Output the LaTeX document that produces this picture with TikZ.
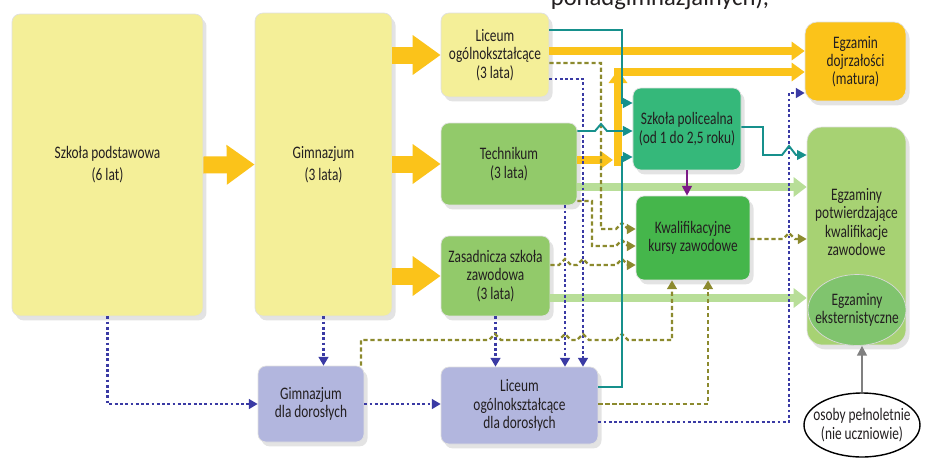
\documentclass[tikz,border=0pt]{standalone}
\usepackage{fontspec}
\setmainfont{Carlito}[FakeStretch=0.76]
\newfontfamily\headfont{Carlito}
\usetikzlibrary{arrows.meta,shadows,shapes.geometric}
\definecolor{pyellow}{HTML}{F4EF98}
\definecolor{ayellow}{HTML}{FBC31A}
\definecolor{lgreen}{HTML}{92CA6A}
\definecolor{tgreen}{HTML}{35B87A}
\definecolor{kgreen}{HTML}{45B64B}
\definecolor{egreen}{HTML}{A7D273}
\definecolor{xgreen}{HTML}{80C46E}
\definecolor{lavend}{HTML}{B2B6DE}
\definecolor{pgreen}{HTML}{B8DE98}
\definecolor{tealc}{HTML}{16908C}
\definecolor{olivec}{HTML}{8C8A2E}
\definecolor{bluec}{HTML}{3A3AA4}
\definecolor{purplec}{HTML}{7B1A86}
\definecolor{textc}{HTML}{231F20}

\begin{document}
\begin{tikzpicture}[x=0.02cm,y=-0.02cm,
    box/.style={rounded corners=0.16cm, draw=black!12, text=textc, align=center,
      font=\fontsize{10}{10.4}\selectfont,
      drop shadow={opacity=0.22,shadow xshift=2pt,shadow yshift=-2.5pt}},
    boxtext/.style={text=textc, align=center, font=\fontsize{10}{10.4}\selectfont},
    bigarrow/.style={ayellow, line width=0.34cm, -{Triangle[width=0.76cm,length=0.56cm]}},
    thinyel/.style={ayellow, line width=0.16cm, -{Triangle[width=0.36cm,length=0.26cm]}},
    lgarrow/.style={pgreen, line width=0.16cm, -{Triangle[width=0.38cm,length=0.26cm]}},
    tealline/.style={tealc, line width=1.1pt, -{Triangle[width=5.5pt,length=5.5pt]}},
    purpline/.style={purplec, line width=1.1pt, -{Triangle[width=5.5pt,length=5.5pt]}},
    blueline/.style={bluec, line width=1.3pt, dash pattern=on 1.6pt off 1.4pt, -{Triangle[width=5.5pt,length=5pt]}},
    oliveline/.style={olivec, line width=1.3pt, dash pattern=on 2.4pt off 1.6pt, -{Triangle[width=5.5pt,length=5pt]}},
    grayarr/.style={black!50, line width=1.1pt, -{Triangle[width=5.5pt,length=5.5pt]}}]
\useasboundingbox (0,0) rectangle (930,457);
\clip (0,0) rectangle (930,457);
\fill[white] (0,0) rectangle (930,457);
\node[font=\headfont\fontsize{14}{14}\selectfont, text=textc, anchor=base] (head) at (660,5) {ponadgimnazjalnych),};
\node[box, fill=pyellow, minimum width=3.82cm, minimum height=6.04cm] (sp) at (107.5,165) {Szkoła podstawowa\\[2pt](6 lat)};
\node[box, fill=pyellow, minimum width=2.74cm, minimum height=6.06cm] (gim) at (323.5,164.5) {Gimnazjum\\[2pt](3 lata)};
\node[box, fill=pyellow, minimum width=2.16cm, minimum height=1.68cm] (lo) at (495,55) {Liceum\\ogólnokształcące\\(3 lata)};
\node[box, fill=lgreen, minimum width=2.72cm, minimum height=1.64cm] (tech) at (509,164) {Technikum\\(3 lata)};
\node[box, fill=lgreen, minimum width=2.18cm, minimum height=1.6cm] (zsz) at (495.5,276) {Zasadnicza szkoła\\zawodowa\\(3 lata)};
\node[box, fill=tgreen, minimum width=2.16cm, minimum height=1.64cm] (poli) at (687,129) {Szkoła policealna\\(od 1 do 2,5 roku)};
\node[box, fill=kgreen, minimum width=2.28cm, minimum height=1.68cm] (kur) at (693,238) {Kwalifikacyjne\\kursy zawodowe};
\node[box, fill=ayellow, rounded corners=0.24cm, minimum width=2.02cm, minimum height=1.58cm] (mat) at (855.5,61.5) {Egzamin\\dojrzałości\\(matura)};
\node[box, fill=egreen, rounded corners=0.3cm, minimum width=1.98cm, minimum height=4.36cm,
  label={[boxtext, yshift=0.28cm]center:Egzaminy\\potwierdzające\\kwalifikacje\\zawodowe}] (egz) at (856.5,236) {};
\node[ellipse, fill=xgreen, draw=black!15, minimum width=1.96cm, minimum height=1.42cm,
  label={[boxtext]center:Egzaminy\\eksternistyczne}] (eks) at (857,310) {};
\node[box, fill=lavend, minimum width=2.12cm, minimum height=1.52cm] (gimdor) at (311,404) {Gimnazjum\\dla dorosłych};
\node[box, fill=lavend, minimum width=3.14cm, minimum height=1.54cm] (ldor) at (519.5,405.5) {Liceum\\ogólnokształcące\\dla dorosłych};
\node[ellipse, draw=black, line width=0.8pt, fill=white, minimum width=2.32cm, minimum height=1.28cm,
  label={[boxtext]center:osoby pełnoletnie\\(nie uczniowie)}] (os) at (862,425) {};
\draw[bigarrow] (sp.east) -- (gim.west);
\draw[bigarrow] (gim.east |- 0,55) -- (lo.west);
\draw[bigarrow] (gim.east |- 0,164) -- (tech.west);
\draw[bigarrow] (gim.east |- 0,276) -- (zsz.west);
\draw[lgarrow] (tech.east |- 0,187) -- (egz.west |- 0,187);
\draw[lgarrow] (zsz.east |- 0,298) -- (egz.west |- 0,298);
\draw[thinyel] (lo.east |- 0,51) -- (mat.west |- 0,51);
\draw[thinyel] (tech.east |- 0,160) -- (613,160);
\draw[thinyel] (618,166) -- (618,70);
\draw[thinyel] (614,72) -- (mat.west |- 0,72);
\draw[blueline] (sp.south) |- (gimdor.west);
\draw[blueline] (gim.south) -- (gim.south |- gimdor.north);
\draw[blueline] (gimdor.east) -- (gimdor.east -| ldor.west);
\draw[blueline] (zsz.south) -- (zsz.south |- ldor.north);
\draw[blueline] (tech.south -| 565,0) -- (ldor.north -| 565,0);
\draw[blueline] (lo.east |- 0,79) -- (583,79) -- (ldor.north -| 583,0);
\draw[blueline] (ldor.east |- 0,422) -- (789,422) -- (789,93) -- (mat.west |- 0,93);
\draw[oliveline] (lo.east |- 0,63) -- (601,63) -- (601,229) -- (616,229) -- (622,223) -- (628,229) -- (kur.west |- 0,229);
\draw[oliveline] (tech.east |- 0,201) -- (592,201) -- (592,246) -- (616,246) -- (622,240) -- (628,246) -- (kur.west |- 0,246);
\draw[oliveline] (zsz.east |- 0,265) -- (559,265) -- (565,259) -- (571,265) -- (577,265) -- (583,259) -- (589,265)
  -- (616,265) -- (622,259) -- (628,265) -- (kur.west |- 0,265);
\draw[oliveline] (gimdor.north -| 361,0) -- (361,340) -- (489,340) -- (495,334) -- (501,340) -- (559,340) -- (565,334)
  -- (571,340) -- (577,340) -- (583,334) -- (589,340) -- (616,340) -- (622,334) -- (628,340) -- (672,340) -- (kur.south -| 672,0);
\draw[oliveline] (ldor.east |- 0,404) -- (708,404) -- (kur.south -| 708,0);
\draw[oliveline] (kur.east |- 0,239) -- (783,239) -- (789,233) -- (795,239) -- (egz.west |- 0,239);
\draw[tealline] (lo.east |- 0,30) -- (622,30) -- (622,103) -- (poli.west |- 0,103);
\draw[tealline] (tech.east |- 0,131) -- (595,131) -- (601,124) -- (607,131) -- (poli.west |- 0,131);
\draw[tealline] (ldor.east |- 0,387) -- (622,387) -- (622,157) -- (poli.west |- 0,157);
\draw[tealline] (poli.east |- 0,127) -- (763,127) -- (763,155) -- (782,155) -- (789,146) -- (796,155) -- (egz.west |- 0,155);
\draw[purpline] (poli.south) -- (poli.south |- kur.north);
\draw[grayarr] (os.north) -- (os.north |- eks.south);
\end{tikzpicture}
\end{document}
